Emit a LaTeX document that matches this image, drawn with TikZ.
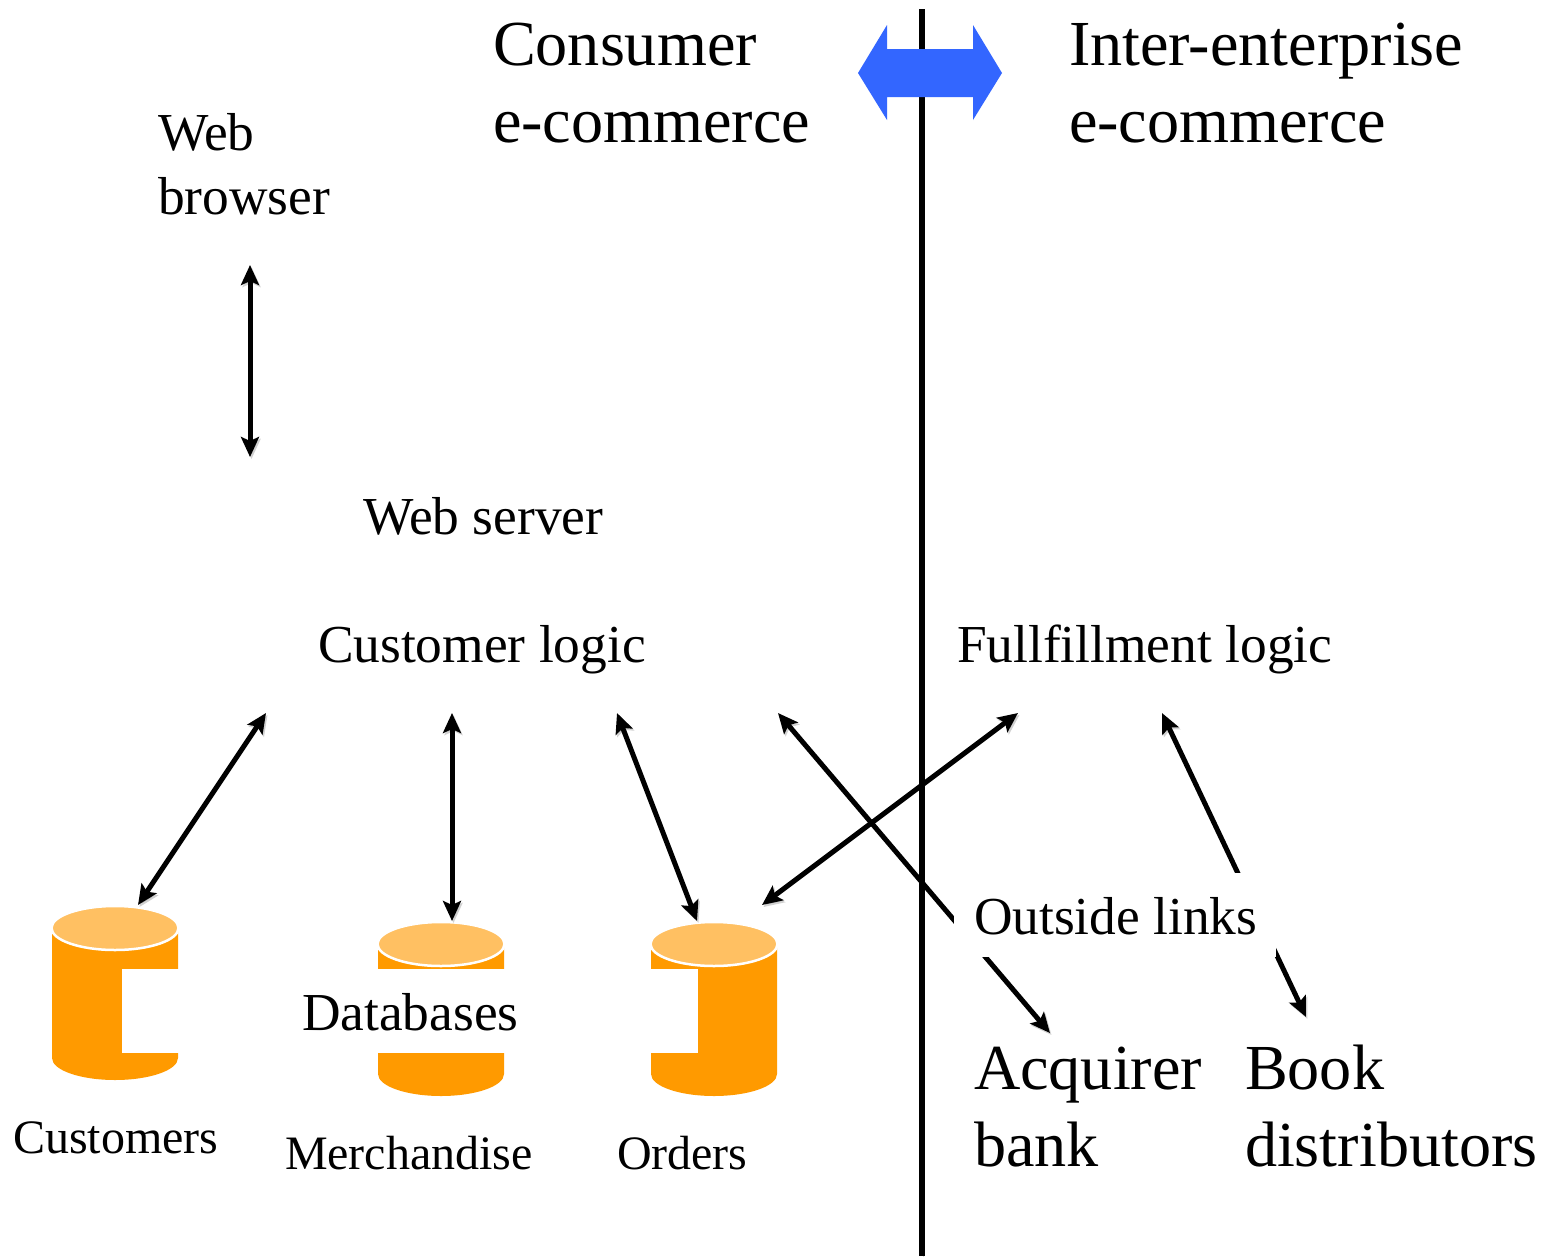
\documentclass[tikz,border=0pt]{standalone}
\usepackage{fontspec}
\setmainfont{Liberation Serif}
\usetikzlibrary{arrows.meta}
\definecolor{cylbody}{HTML}{FF9A00}
\definecolor{cyltop}{HTML}{FFC062}
\definecolor{bluearrow}{HTML}{3366FF}
\tikzset{
  lbl/.style={anchor=base west,inner sep=0pt,outer sep=0pt,text=black},
  big/.style={lbl,font=\fontsize{64.2}{64}\selectfont},
  mid/.style={lbl,font=\fontsize{53.4}{53}\selectfont},
  small/.style={lbl,font=\fontsize{48}{48}\selectfont},
  link/.style={draw=black,line width=5pt,{Stealth[length=20pt,width=18pt,inset=4pt]}-{Stealth[length=20pt,width=18pt,inset=4pt]},
    preaction={draw=black,opacity=.18,transform canvas={shift={(1.5pt,-2pt)}}}},
  patch/.style={fill=white,draw=none},
}
\newcommand{\cylinder}[2]{%
  \fill[cylbody] (#1,#2) -- (#1,#2+130) arc[start angle=180,end angle=0,x radius=63,y radius=22] -- (#1+126,#2) -- cycle;
  \fill[cyltop,draw=white,line width=2.5pt] (#1+63,#2) ellipse[x radius=63.5,y radius=22];
}
\begin{document}
\begin{tikzpicture}[x=1pt,y=-1pt]
\useasboundingbox (0,0) rectangle (1559,1258);
\fill[white] (0,0) rectangle (1559,1258);
% divider
\coordinate (divtop) at (922,9);
\coordinate (divbot) at (922,1256);
\draw[line width=5.5pt,black,preaction={draw=black,opacity=.15,transform canvas={shift={(1.5pt,-1pt)}}}] (divtop) -- (divbot);
% double arrow
\fill[bluearrow] (858,73) -- (887,25) -- (887,49) -- (973,49) -- (973,25) -- (1002,73) -- (973,120) -- (973,97) -- (887,97) -- (887,120) -- cycle;
% cylinders
\cylinder{52}{928}
\cylinder{378}{944}
\cylinder{651}{944}
% anchors of the connectors
\coordinate (browserport) at (250,265);
\coordinate (serverport) at (250,457);
\coordinate (clA) at (266,713);
\coordinate (clB) at (452,713);
\coordinate (clC) at (617,713);
\coordinate (clD) at (778,713);
\coordinate (flA) at (1018,713);
\coordinate (flB) at (1162,713);
\coordinate (custtop) at (138,905);
\coordinate (merchtop) at (452,921);
\coordinate (ordtop) at (697,921);
\coordinate (ordside) at (762,905);
\coordinate (acqtop) at (1050,1033);
\coordinate (booktop) at (1306,1017);
\draw[link] (browserport) -- (serverport);
\draw[link] (clA) -- (custtop);
\draw[link] (clB) -- (merchtop);
\draw[link] (clC) -- (ordtop);
\draw[link] (clD) -- (acqtop);
\draw[link] (flA) -- (ordside);
\draw[link] (flB) -- (booktop);
% white label boxes
\fill[patch] (122,969) rectangle (698,1053);
\fill[patch] (954,873) rectangle (1276,957);
% labels
\node[big] (consumer) at (493,65) {Consumer};
\node[big] (ecom1) at (493,142) {e-commerce};
\node[big] (inter) at (1069,65) {Inter-enterprise};
\node[big] (ecom2) at (1069,142) {e-commerce};
\node[mid] (web) at (158,150) {Web};
\node[mid] (browser) at (158,214) {browser};
\node[mid] (webserver) at (363,534) {Web server};
\node[mid] (custlogic) at (318,662) {Customer logic};
\node[mid] (fulllogic) at (957,662) {Fullfillment logic};
\node[mid] (outside) at (974,934) {Outside links};
\node[mid] (databases) at (302,1030) {Databases};
\node[small] (customers) at (13,1153) {Customers};
\node[small] (merch) at (285,1169) {Merchandise};
\node[small] (orders) at (617,1169) {Orders};
\node[big] (acq) at (974,1089) {Acquirer};
\node[big] (bank) at (974,1166) {bank};
\node[big] (book) at (1245,1089) {Book};
\node[big] (dist) at (1245,1166) {distributors};
\end{tikzpicture}
\end{document}
